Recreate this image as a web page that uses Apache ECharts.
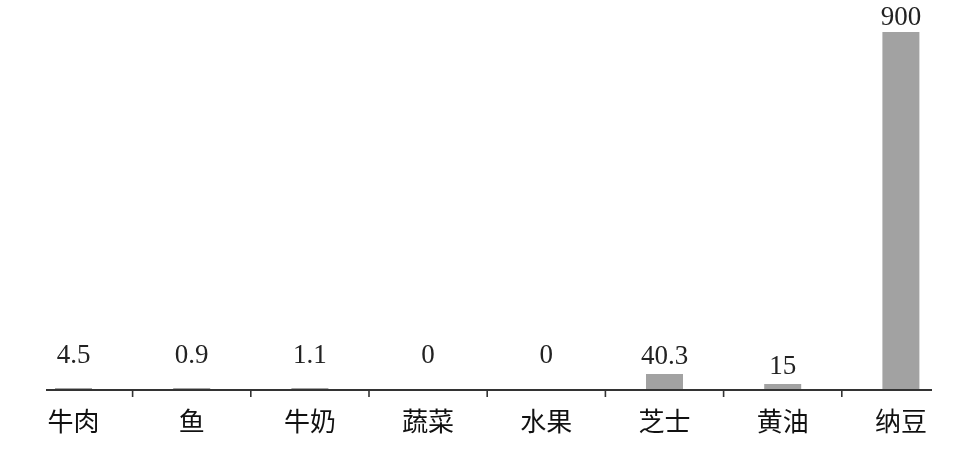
<!DOCTYPE html>
<html>
<head>
<meta charset="utf-8">
<script src="https://cdn.jsdelivr.net/npm/echarts@6/dist/echarts.min.js"></script>
<style>html,body{margin:0;padding:0;background:#fff}#c{width:960px;height:464px}</style>
</head>
<body>
<div id="c"></div>
<script>
var categories = ['牛肉', '鱼', '牛奶', '蔬菜', '水果', '芝士', '黄油', '纳豆'];
var values = [4.5, 0.9, 1.1, 0, 0, 40.3, 15, 900];

var chart = echarts.init(document.getElementById('c'), null, {renderer: 'canvas'});

var seriesData = values.map(function (v) {
  var d = v < 10 ? 19 : (v > 500 ? 1 : 4);
  var item = {value: v, label: {distance: d}};
  if (v === 0) item.itemStyle = {color: 'rgba(0,0,0,0)'};
  return item;
});

var option = {
  animation: false,
  backgroundColor: '#fff',
  grid: {left: 14.4, width: 949.2, top: 32, bottom: 74, containLabel: false},
  xAxis: {
    type: 'category',
    data: categories,
    axisLine: {show: false},
    axisTick: {show: false},
    axisLabel: {
      color: '#111',
      fontFamily: 'Noto Sans CJK SC',
      fontSize: 26,
      margin: 18
    }
  },
  yAxis: {
    type: 'value',
    min: 0,
    max: 900,
    show: false
  },
  series: [{
    type: 'bar',
    data: seriesData,
    barWidth: 37,
    barMinHeight: 2,
    itemStyle: {color: '#a2a2a2'},
    label: {
      show: true,
      position: 'top',
      color: '#222',
      fontFamily: 'Liberation Serif, Times New Roman, serif',
      fontSize: 27
    }
  }]
};
chart.setOption(option);

// axis line and boundary ticks, positioned from the category scale
var baseY = chart.convertToPixel({yAxisIndex: 0}, 0);
var elements = [{
  type: 'line',
  shape: {x1: 46, y1: baseY, x2: 932, y2: baseY},
  style: {stroke: '#333', lineWidth: 2},
  z: 10
}];
for (var i = 1; i < categories.length; i++) {
  var a = chart.convertToPixel({xAxisIndex: 0}, categories[i - 1]);
  var b = chart.convertToPixel({xAxisIndex: 0}, categories[i]);
  var x = (a + b) / 2;
  elements.push({
    type: 'line',
    shape: {x1: x, y1: baseY, x2: x, y2: baseY + 7},
    style: {stroke: '#333', lineWidth: 1.6},
    z: 10
  });
}
chart.setOption({graphic: {elements: elements}});
</script>
</body>
</html>
